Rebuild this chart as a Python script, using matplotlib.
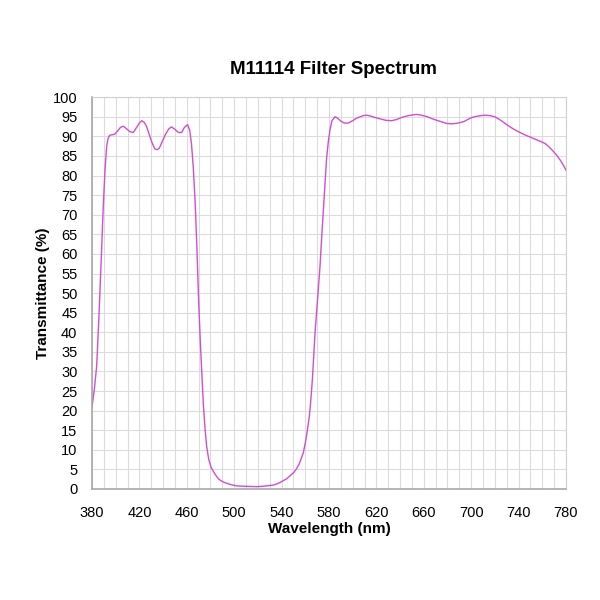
import numpy as np
import matplotlib.pyplot as plt

plt.rcParams['font.family'] = ['Liberation Sans', 'DejaVu Sans']

# wavelength (nm) and transmittance (%)
wavelength = [380, 382, 384, 386, 387, 388, 389.5, 391, 392.4, 393.5, 395, 397, 399.4,
              402, 404, 406.4, 409, 412, 414.9, 417, 420, 422, 424, 426, 428, 430.4,
              433, 435, 436.8, 439, 442, 445, 447.2, 450, 453, 455.7, 458, 460.7,
              462.5, 464, 465.5, 467, 468.5, 470, 471.5, 472.6, 474, 475.5, 476.8,
              478.5, 480.5, 483.8, 487, 490, 493.7, 498, 502, 508, 514, 519, 524,
              529, 533, 537, 540, 544.3, 548, 550.5, 552.7, 555, 558.3, 560.5, 562,
              563.4, 564.5, 566, 568.2, 570.5, 572.4, 574, 575.8, 577, 578, 579.5,
              580.8, 582.5, 585, 587, 590, 593, 596.3, 600, 603, 606.2, 609, 611.8,
              615, 619, 624, 628, 632.9, 637, 642, 647, 651, 654, 658, 663, 668,
              673, 679.3, 684, 689, 694, 697, 700.4, 704, 708, 711.6, 716, 720,
              725, 730, 735, 741, 746, 752.4, 757, 762.3, 765, 768, 772.2, 775,
              777.5, 780]
transmittance = [20.8, 25.5, 31.5, 45.0, 52.5, 60.0, 72.0, 81.5, 87.5, 89.4, 90.3, 90.4, 90.6,
                 91.5, 92.3, 92.6, 92.0, 91.2, 91.0, 92.0, 93.4, 94.0, 93.6, 92.6, 90.8, 88.6,
                 86.8, 86.6, 87.0, 88.5, 90.5, 92.0, 92.4, 91.8, 91.0, 91.0, 92.3, 93.0,
                 91.5, 88.0, 82.0, 73.5, 62.0, 48.0, 37.0, 30.0, 21.5, 15.0, 10.8,
                 7.6, 5.5, 3.8, 2.5, 1.9, 1.45, 1.05, 0.8, 0.7, 0.65, 0.6, 0.7,
                 0.85, 1.0, 1.4, 1.9, 2.6, 3.6, 4.3, 5.2, 6.5, 9.2, 12.5, 15.5,
                 18.5, 22.0, 28.0, 39.7, 49.0, 56.7, 65.0, 73.7, 79.5, 84.5, 88.8,
                 91.6, 94.0, 95.0, 94.7, 93.9, 93.4, 93.4, 94.0, 94.6, 95.0, 95.3, 95.4,
                 95.2, 94.8, 94.4, 94.1, 94.0, 94.3, 94.9, 95.3, 95.5, 95.6, 95.4, 95.0, 94.4,
                 93.9, 93.3, 93.2, 93.4, 93.8, 94.3, 94.8, 95.1, 95.3, 95.4, 95.3, 95.0,
                 94.1, 93.0, 92.0, 91.0, 90.3, 89.5, 88.9, 88.2, 87.5, 86.6, 85.2, 84.0,
                 82.8, 81.4]

fig = plt.figure(figsize=(6, 6), dpi=100)
ax = fig.add_axes([0.1533, 0.185, 0.79, 0.653])

ax.plot(wavelength, transmittance, color='#d04ed0', lw=1.0)

ax.set_xlim(380, 780)
ax.set_ylim(0, 100)
ax.set_xticks(np.arange(380, 781, 40))
ax.set_xticks(np.arange(380, 781, 10), minor=True)
ax.set_yticks(np.arange(0, 101, 5))
ax.grid(which='both', color='#dcdcdc', lw=0.8)
ax.set_axisbelow(True)

for side in ['top', 'right']:
    ax.spines[side].set_color('#d0d0d0')
for side in ['left', 'bottom']:
    ax.spines[side].set_color('#a8a8a8')
    ax.spines[side].set_linewidth(1.2)

ax.tick_params(axis='both', which='both', labelsize=10.5, length=0)
ax.tick_params(axis='y', pad=10.5)
ax.tick_params(axis='x', pad=12)

ax.set_xlabel('Wavelength (nm)', fontsize=11, fontweight='bold', labelpad=2)
ax.set_ylabel('Transmittance (%)', fontsize=11, fontweight='bold', labelpad=2)
fig.text(0.556, 0.885, 'M11114 Filter Spectrum', fontsize=13.5, fontweight='bold',
         ha='center', va='center')

fig.savefig('out.png', dpi=100, facecolor='white')
